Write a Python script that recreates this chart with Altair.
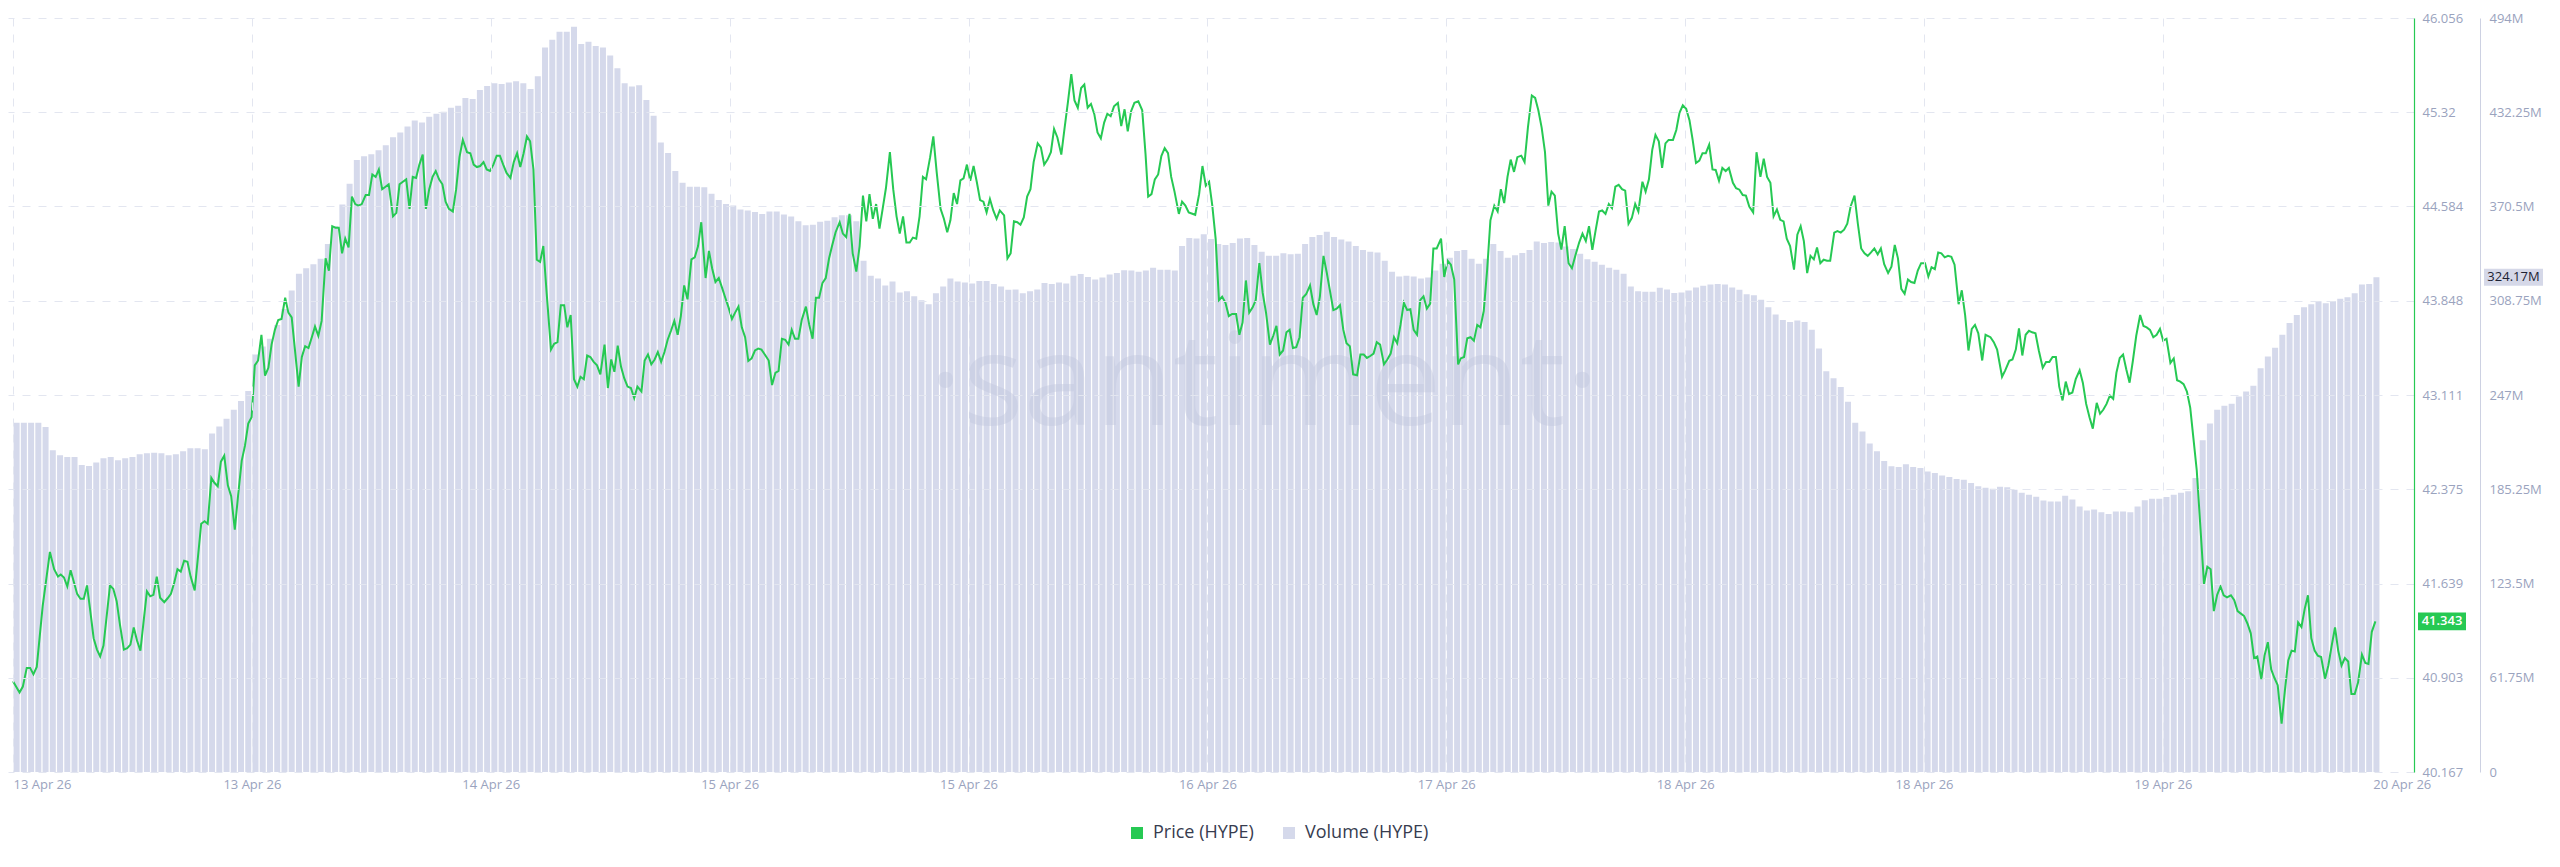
import altair as alt
import pandas as pd

# ---------------- data ----------------
TICK_HOURS = [0, 16.5, 33, 49.5, 66, 82.5, 99, 115.5, 132, 148.5, 165]
TICK_LABELS = ["13 Apr 26", "13 Apr 26", "14 Apr 26", "15 Apr 26", "15 Apr 26",
               "16 Apr 26", "17 Apr 26", "18 Apr 26", "18 Apr 26", "19 Apr 26", "20 Apr 26"]

PRICE_TICKS = [40.167, 40.903, 41.639, 42.375, 43.111, 43.848, 44.584, 45.32, 46.056]
VOLUME_TICKS = [0, 61.75, 123.5, 185.25, 247, 308.75, 370.5, 432.25, 494]

SERIES = ["Price (HYPE)", "Volume (HYPE)"]
COLORS = ["#26c953", "#d5d9eb"]

BAR_STEP_HOURS = 0.5
VOLUME_M = [
    228.9, 228.9, 228.9, 228.9, 226.0, 210.8, 207.6, 206.3, 206.3, 201.1,
    200.5, 202.7, 205.6, 206.3, 204.3, 205.6, 206.3, 208.2, 208.9, 209.2,
    208.9, 207.6, 208.2, 210.1, 212.1, 212.1, 211.4, 221.8, 226.3, 231.5,
    237.3, 243.1, 249.6, 273.5, 278.7, 283.9, 292.9, 303.3, 315.5, 326.5,
    330.1, 332.7, 336.2, 345.9, 357.6, 371.8, 385.4, 400.9, 403.5, 404.8,
    407.4, 410.6, 415.8, 419.0, 422.9, 426.8, 425.5, 429.3, 431.3, 432.6,
    435.2, 436.5, 441.6, 441.0, 446.8, 449.4, 451.3, 450.7, 451.7, 452.6,
    451.3, 447.5, 455.9, 474.6, 479.8, 485.0, 485.0, 488.2, 476.9, 478.5,
    475.6, 474.6, 469.4, 461.0, 451.3, 449.1, 450.0, 440.3, 430.0, 412.5,
    405.6, 393.8, 386.0, 383.4, 383.4, 383.1, 378.9, 374.7, 372.1, 371.1,
    368.6, 367.9, 366.9, 365.6, 367.3, 367.3, 365.3, 364.0, 360.8, 358.2,
    358.5, 360.5, 361.1, 363.4, 364.7, 364.7, 360.8, 334.9, 325.2, 323.3,
    318.8, 321.4, 314.2, 314.9, 311.7, 309.1, 306.5, 313.6, 318.1, 323.3,
    321.4, 320.7, 320.1, 321.7, 321.7, 319.7, 318.1, 315.9, 316.2, 313.6,
    314.9, 316.2, 320.4, 319.7, 320.7, 320.1, 325.2, 326.2, 324.3, 322.7,
    324.0, 325.9, 326.9, 328.8, 328.5, 327.8, 328.5, 330.4, 329.1, 329.1,
    328.5, 344.6, 349.8, 349.5, 352.4, 349.2, 345.9, 345.3, 346.6, 349.5,
    349.8, 345.3, 340.8, 338.2, 338.2, 339.8, 339.2, 339.5, 345.9, 350.5,
    351.8, 354.0, 350.5, 348.8, 347.5, 344.6, 342.0, 340.8, 340.4, 334.9,
    327.8, 324.6, 325.2, 324.6, 323.3, 324.0, 328.5, 333.0, 336.9, 341.4,
    342.0, 336.2, 333.0, 336.2, 345.9, 341.4, 336.9, 338.5, 340.1, 342.0,
    347.5, 346.6, 347.2, 346.9, 344.3, 342.7, 339.5, 335.9, 334.3, 332.4,
    330.4, 329.1, 326.5, 318.1, 314.9, 314.6, 314.6, 317.2, 316.2, 313.9,
    314.2, 315.5, 317.5, 318.5, 319.4, 319.7, 319.4, 317.5, 315.9, 313.0,
    312.3, 309.4, 304.5, 299.7, 296.1, 294.8, 295.8, 294.8, 289.7, 277.4,
    262.5, 258.0, 252.2, 242.5, 228.9, 223.1, 215.3, 210.1, 203.7, 200.4,
    199.8, 201.7, 199.8, 199.1, 196.9, 195.9, 194.3, 193.3, 192.0, 191.4,
    189.4, 187.2, 186.2, 185.6, 186.9, 186.5, 184.9, 183.0, 181.7, 180.4,
    177.8, 177.2, 177.2, 181.0, 178.5, 173.9, 171.4, 172.0, 170.1, 169.1,
    170.7, 170.7, 170.1, 173.9, 178.1, 179.1, 179.1, 180.1, 181.7, 183.0,
    184.0, 192.7, 217.3, 228.3, 237.3, 239.9, 241.2, 246.0, 249.3, 253.1,
    264.5, 272.2, 278.0, 286.4, 294.2, 299.4, 304.5, 306.5, 308.4, 307.1,
    308.4, 310.0, 311.0, 313.6, 319.4, 319.7, 324.17,
]

PRICE_HOURS = [
    0.00, 0.45, 0.68, 0.95, 1.18, 1.41, 1.64, 2.05, 2.55, 2.84, 3.11, 3.30, 3.52, 3.75, 3.98,
    4.43, 4.66, 4.89, 5.11, 5.34, 5.57, 5.80, 6.02, 6.25, 6.70, 6.93, 7.16, 7.39, 7.66, 7.89,
    8.11, 8.34, 8.57, 8.80, 9.25, 9.48, 9.70, 9.93, 10.16, 10.45, 10.68, 10.91, 11.14, 11.36,
    11.59, 11.82, 12.05, 12.27, 12.55, 13.00, 13.23, 13.45, 13.70, 13.91, 14.14, 14.36, 14.59,
    14.84, 15.07, 15.32, 15.55, 15.80, 16.02, 16.25, 16.48, 16.70, 16.93, 17.16, 17.41, 17.64,
    17.86, 18.09, 18.32, 18.55, 18.80, 19.02, 19.25, 19.73, 19.95, 20.18, 20.41, 20.64, 20.86,
    21.09, 21.32, 21.59, 21.82, 22.05, 22.27, 22.50, 22.73, 22.95, 23.18, 23.41, 23.64, 23.86,
    24.09, 24.36, 24.59, 24.82, 25.05, 25.27, 25.50, 25.73, 25.95, 26.25, 26.48, 26.70, 26.93,
    27.16,
    27.39, 27.61, 27.84, 28.07, 28.30, 28.52, 28.75, 28.98, 29.20, 29.43, 29.66, 29.88, 30.11,
    30.38, 30.61, 30.84, 31.07, 31.36, 31.59, 31.82, 32.04, 32.27, 32.50, 32.72, 32.95, 33.18,
    33.41, 33.63, 33.86, 34.09, 34.36, 34.59, 34.82, 35.04, 35.27, 35.50, 35.72, 35.95, 36.18,
    36.41, 36.63, 36.86, 37.16, 37.38, 37.61, 37.84, 38.07, 38.29, 38.52, 38.75, 38.98, 39.20,
    39.43, 39.66, 39.88, 40.11, 40.34, 40.57, 40.86, 41.09, 41.32, 41.54, 41.77, 42.00, 42.22,
    42.45, 42.68, 42.91, 43.13, 43.41, 43.63, 43.86, 44.09, 44.32, 44.54, 44.77, 45.00, 45.22,
    45.45, 45.68, 45.91, 46.13, 46.36, 46.59, 46.86, 47.09, 47.32, 47.54, 47.84, 48.07, 48.29,
    48.52, 48.75, 48.98, 49.20, 49.43, 49.66, 49.88, 50.11, 50.34, 50.57, 50.79, 51.02, 51.25,
    51.48, 51.70, 51.93, 52.20, 52.43, 52.66, 52.88, 53.11, 53.34, 53.57, 53.79, 54.02, 54.25,
    54.48,
    54.77, 55.00, 55.23, 55.46, 55.68, 55.91, 56.14, 56.37, 56.59, 56.82, 57.10, 57.32, 57.55,
    57.78, 58.00, 58.25, 58.48, 58.71, 58.94, 59.16, 59.39, 59.62, 59.85, 60.07, 60.30, 60.57,
    60.80, 61.03, 61.25, 61.48, 61.71, 61.94, 62.16, 62.39, 62.62, 62.85, 63.07, 63.35, 63.57,
    63.80, 64.07, 64.30, 64.53, 64.75, 64.98, 65.21, 65.44, 65.66, 65.89, 66.12, 66.35, 66.57,
    66.80, 67.03, 67.25, 67.48, 67.71, 67.94, 68.16, 68.46, 68.69, 68.91, 69.14, 69.37, 69.59,
    69.82, 70.05, 70.28, 70.50, 70.78, 71.00, 71.23, 71.46, 71.69, 71.91, 72.14, 72.41, 72.64,
    72.87, 73.10, 73.32, 73.55, 73.78, 74.00, 74.23, 74.46, 74.69, 74.91, 75.14, 75.37, 75.59,
    75.82, 76.05, 76.32, 76.55, 76.78, 77.00, 77.23, 77.46, 77.73, 78.00, 78.23, 78.41, 78.64,
    78.87, 79.10, 79.32, 79.55, 79.78, 80.00, 80.23, 80.53, 80.75, 80.98, 81.21, 81.66,
    81.93, 82.16, 82.39, 82.62, 82.84, 83.07, 83.30, 83.52, 83.75, 83.98, 84.21, 84.48, 84.71,
    84.93, 85.16, 85.39, 85.62, 85.84, 86.09, 86.32, 86.55, 86.82, 87.05, 87.27, 87.50, 87.73,
    87.96, 88.18, 88.41, 88.64, 88.87, 89.09, 89.32, 89.59, 89.82, 90.05, 90.27, 90.52, 90.75,
    90.98, 91.20, 91.43, 91.66, 91.89, 92.11, 92.34, 92.57, 92.84, 93.07, 93.30, 93.52, 93.75,
    93.98, 94.20, 94.43, 94.70, 94.93, 95.16, 95.39, 95.61, 95.84, 96.07, 96.30, 96.52, 96.75,
    96.98, 97.20, 97.43, 97.66, 97.89, 98.11, 98.34, 98.64, 98.86, 99.09, 99.32, 99.55, 99.82,
    100.00, 100.23, 100.45, 100.68, 100.91, 101.14, 101.36, 101.59, 101.82, 102.05, 102.32,
    102.55, 102.77, 103.00, 103.23, 103.45, 103.68, 103.91, 104.18, 104.41, 104.64, 104.91,
    105.14, 105.36, 105.59, 105.82, 106.05, 106.27, 106.50, 106.73, 106.95, 107.18, 107.45,
    107.68, 107.91, 108.18, 108.41, 108.64, 108.86,
    109.09, 109.32, 109.55, 109.77, 110.00, 110.23, 110.45, 110.68, 110.91, 111.14, 111.36,
    111.59, 111.82, 112.05, 112.27, 112.55, 112.77, 113.00, 113.23, 113.45, 113.68, 113.91,
    114.14, 114.36, 114.66, 114.89, 115.11, 115.34, 115.57, 115.80, 116.02, 116.25, 116.48,
    116.70, 116.93, 117.16, 117.39, 117.61, 117.84, 118.07, 118.30, 118.52, 118.80, 119.02,
    119.25, 119.48, 119.70, 119.93, 120.20, 120.43, 120.70, 120.93, 121.16, 121.39, 121.61,
    121.84, 122.07, 122.30, 122.52, 122.75, 123.02, 123.25, 123.48, 123.70, 123.93, 124.16,
    124.39, 124.61, 124.84, 125.07, 125.30, 125.52, 125.80, 126.02, 126.25, 126.48, 126.70,
    126.93, 127.20, 127.43, 127.66, 127.89, 128.11, 128.34, 128.57, 128.80, 129.02, 129.25,
    129.52, 129.75, 129.98, 130.20, 130.43, 130.66, 130.89, 131.11, 131.34, 131.57, 131.80,
    132.07, 132.30, 132.52, 132.75, 132.98, 133.20, 133.43, 133.66, 133.89, 134.11, 134.39,
    134.61, 134.84, 135.07, 135.30, 135.52, 135.75, 136.02, 136.25,
    136.59, 136.82, 137.05, 137.39, 137.61, 137.89, 138.11, 138.34, 138.56, 138.79, 139.02,
    139.25, 139.47, 139.70, 139.93, 140.20, 140.43, 140.66, 140.88, 141.11, 141.34, 141.57,
    141.79, 142.02, 142.25, 142.48, 142.75, 142.97, 143.20, 143.43, 143.66, 143.93, 144.16,
    144.38, 144.61, 144.84, 145.07, 145.29, 145.52, 145.75, 145.97, 146.20, 146.43, 146.66,
    146.93, 147.16, 147.38, 147.61, 147.84, 148.07, 148.30, 148.52, 148.75, 149.02, 149.25,
    149.48, 149.70, 149.93, 150.16, 150.39, 150.61, 150.84, 151.07, 151.34, 151.57, 151.80,
    152.02, 152.25, 152.48, 152.70, 152.93, 153.20, 153.43, 153.66, 153.89, 154.11, 154.34,
    154.57, 154.80, 155.02, 155.30, 155.52, 155.75, 155.98, 156.20, 156.43, 156.70, 156.93,
    157.16, 157.39, 157.61, 157.84, 158.07, 158.30, 158.52, 158.75, 158.98, 159.20, 159.43,
    159.70, 159.93, 160.16, 160.39, 160.61, 160.84, 161.07, 161.30, 161.52, 161.75, 161.98,
    162.25, 162.48, 162.70, 162.93, 163.18,
]

PRICE_USD = [
    40.876, 40.788, 40.834, 40.980, 40.980, 40.930, 40.988, 41.462, 41.886, 41.751, 41.693, 41.709, 41.686, 41.616, 41.743,
    41.558, 41.520, 41.520, 41.624, 41.424, 41.212, 41.123, 41.069, 41.154, 41.624, 41.597, 41.501, 41.316, 41.123, 41.135,
    41.162, 41.296, 41.192, 41.115, 41.578, 41.539, 41.551, 41.693, 41.528, 41.493, 41.524, 41.558, 41.647, 41.751,
    41.732, 41.817, 41.809, 41.693, 41.585, 42.106, 42.125, 42.106, 42.464, 42.426, 42.399, 42.591, 42.637,
    42.406, 42.321, 42.059, 42.329, 42.599, 42.714, 42.888, 42.938, 43.343, 43.381, 43.582, 43.262, 43.324,
    43.505, 43.620, 43.697, 43.705, 43.871, 43.755, 43.717, 43.177, 43.408, 43.493, 43.478, 43.563, 43.647,
    43.574, 43.690, 44.179, 44.083, 44.430, 44.418, 44.418, 44.218, 44.333, 44.264, 44.661, 44.603, 44.591,
    44.603, 44.673, 44.673, 44.834, 44.815, 44.873, 44.719, 44.738, 44.757, 44.507, 44.534, 44.757, 44.777,
    44.796,
    44.565, 44.815, 44.807, 44.911, 44.989, 44.565, 44.719, 44.815, 44.861, 44.796, 44.757, 44.622, 44.565,
    44.545, 44.719, 44.969, 45.104, 45.008, 45.000, 44.911, 44.892, 44.900, 44.931, 44.873, 44.861, 44.911,
    44.981, 44.981, 44.911, 44.846, 44.807, 44.931, 45.000, 44.892, 45.000, 45.131, 45.093, 44.873, 44.168,
    44.152, 44.275, 43.909, 43.466, 43.512, 43.524, 43.813, 43.813, 43.640, 43.736, 43.235, 43.177, 43.254,
    43.235, 43.420, 43.408, 43.370, 43.343, 43.273, 43.505, 43.166, 43.389, 43.293, 43.497, 43.331, 43.243,
    43.177, 43.166, 43.088, 43.177, 43.139, 43.381, 43.428, 43.351, 43.389, 43.447, 43.370, 43.447, 43.543,
    43.613, 43.690, 43.582, 43.728, 43.967, 43.859, 44.171, 44.187, 44.275, 44.461, 44.025, 44.237, 44.102,
    43.994, 44.025, 43.948, 43.871, 43.794, 43.705, 43.755, 43.802, 43.640, 43.563, 43.378, 43.397, 43.459,
    43.474, 43.466, 43.428, 43.381, 43.189, 43.285, 43.300, 43.551, 43.543, 43.505, 43.620, 43.551, 43.551,
    43.697,
    43.802, 43.659, 43.551, 43.871, 43.871, 43.986, 44.025, 44.179, 44.283, 44.383, 44.461, 44.372, 44.345,
    44.526, 44.218, 44.075, 44.275, 44.669, 44.468, 44.680, 44.488, 44.603, 44.411, 44.565, 44.730, 45.008,
    44.719, 44.507, 44.372, 44.507, 44.302, 44.302, 44.341, 44.333, 44.507, 44.815, 44.796, 44.969, 45.131,
    44.854, 44.565, 44.488, 44.383, 44.476, 44.688, 44.603, 44.788, 44.804, 44.911, 44.784, 44.900, 44.777,
    44.634, 44.622, 44.538, 44.642, 44.553, 44.488, 44.553, 44.515, 44.179, 44.218, 44.468, 44.461, 44.441,
    44.499, 44.661, 44.719, 44.931, 45.077, 45.046, 44.911, 44.950, 45.008, 45.189, 45.123, 44.989, 45.200,
    45.401, 45.617, 45.412, 45.355, 45.509, 45.536, 45.355, 45.385, 45.305, 45.162, 45.116, 45.239, 45.308,
    45.289, 45.366, 45.393, 45.212, 45.343, 45.170, 45.328, 45.393, 45.405, 45.335, 44.989, 44.661, 44.680,
    44.796, 44.834, 44.977, 45.039, 45.000, 44.815, 44.700, 44.526, 44.622, 44.591, 44.538, 44.519,
    44.680, 44.900, 44.746, 44.777, 44.591, 44.333, 43.852, 43.879, 43.832, 43.728, 43.744, 43.744, 43.582,
    43.678, 44.006, 43.755, 43.794, 43.852, 44.141, 43.909, 43.755, 43.505, 43.574, 43.651, 43.428, 43.459,
    43.601, 43.620, 43.478, 43.485, 43.563, 43.871, 43.898, 43.967, 43.821, 43.736, 43.879, 44.198, 44.064,
    43.917, 43.775, 43.786, 43.813, 43.620, 43.516, 43.493, 43.273, 43.266, 43.428, 43.428, 43.401, 43.416,
    43.435, 43.524, 43.505, 43.351, 43.389, 43.435, 43.563, 43.516, 43.659, 43.832, 43.775, 43.782, 43.620,
    43.582, 43.852, 43.882, 43.786, 43.825, 44.256, 44.256, 44.333, 44.033, 44.160, 44.129, 44.014, 43.351,
    43.397, 43.408, 43.555, 43.563, 43.536, 43.659, 43.640, 43.767, 44.083, 44.476, 44.591,
    44.545, 44.719, 44.611, 44.815, 44.950, 44.854, 44.969, 44.981, 44.931, 45.200, 45.451,
    45.432, 45.335, 45.200, 45.008, 44.591, 44.700, 44.669, 44.372, 44.248, 44.430, 44.141,
    44.102, 44.198, 44.302, 44.372, 44.314, 44.430,
    44.245, 44.399, 44.545, 44.553, 44.526, 44.603, 44.572, 44.738, 44.753, 44.719, 44.707,
    44.449, 44.495, 44.603, 44.545, 44.777, 44.700, 44.796, 45.027, 45.143, 45.093, 44.885,
    45.077, 45.104, 45.104, 45.181, 45.316, 45.374, 45.347, 45.258, 45.104, 44.923, 44.942,
    45.000, 45.000, 45.066, 44.873, 44.869, 44.784, 44.885, 44.861, 44.885, 44.769, 44.726,
    44.715, 44.673, 44.669, 44.584, 44.538, 45.008, 44.815, 44.958, 44.815, 44.769, 44.507,
    44.561, 44.480, 44.468, 44.333, 44.275, 44.091, 44.364, 44.430, 44.314, 44.064, 44.198,
    44.171, 44.264, 44.141, 44.168, 44.160, 44.160, 44.380, 44.391, 44.380, 44.403, 44.449,
    44.584, 44.669, 44.449, 44.256, 44.218, 44.198, 44.225, 44.256, 44.210, 44.256, 44.133,
    44.064, 44.114, 44.283, 44.179, 43.940, 43.902, 44.014, 43.994, 43.986, 44.083, 44.141,
    44.141, 44.037, 44.110, 44.094, 44.225, 44.218, 44.187, 44.198, 44.191, 44.129, 43.821,
    43.929, 43.736, 43.459, 43.628, 43.659, 43.593, 43.381, 43.582,
    43.563, 43.524, 43.466, 43.254, 43.304, 43.378, 43.389, 43.466, 43.632, 43.420, 43.582,
    43.613, 43.601, 43.593, 43.459, 43.324, 43.370, 43.370, 43.408, 43.408, 43.177, 43.069,
    43.216, 43.119, 43.131, 43.235, 43.304, 43.208, 43.042, 42.938, 42.849, 43.050, 42.965,
    42.996, 43.042, 43.108, 43.081, 43.285, 43.401, 43.428, 43.312, 43.208, 43.381, 43.574,
    43.736, 43.651, 43.640, 43.620, 43.563, 43.582, 43.628, 43.536, 43.551, 43.362, 43.397,
    43.227, 43.216, 43.196, 43.139, 43.011, 42.772, 42.522, 42.117, 41.635, 41.770, 41.751,
    41.424, 41.551, 41.616, 41.547, 41.531, 41.547, 41.508, 41.424, 41.404, 41.385, 41.327,
    41.250, 41.057, 41.069, 40.892, 41.076, 41.181, 40.969, 40.903, 40.845, 40.545, 40.807,
    41.038, 41.115, 41.108, 41.335, 41.300, 41.443, 41.547, 41.212, 41.115, 41.076, 41.065,
    40.896, 40.999, 41.154, 41.296, 41.115, 40.999, 41.057, 41.030, 40.776, 40.776, 40.865,
    41.084, 41.019, 41.011, 41.262, 41.343,
]

# ---------------- layout / style ----------------
W, H = 2406, 754
FONT = "Open Sans"
AXIS_LABEL = "#9aa3be"
GRID = "#e3e6f0"
GREEN = COLORS[0]

vol_df = pd.DataFrame({
    "t": [i * BAR_STEP_HOURS + BAR_STEP_HOURS / 2 for i in range(len(VOLUME_M))],
    "volume": VOLUME_M,
    "series": SERIES[1],
})
price_df = pd.DataFrame({"t": PRICE_HOURS, "price": PRICE_USD})
price_last = pd.DataFrame({"price": [PRICE_USD[-1]], "label": [f"{PRICE_USD[-1]:.3f}"]})
vol_last = pd.DataFrame({"volume": [VOLUME_M[-1]], "label": [f"{VOLUME_M[-1]:.2f}M"]})

labels_js = "[" + ",".join(f"'{s}'" for s in TICK_LABELS) + "]"

x_enc = alt.X(
    "t:Q",
    scale=alt.Scale(domain=[0, 165.5], nice=False, zero=False),
    axis=alt.Axis(
        values=TICK_HOURS, labelExpr=f"{labels_js}[round(datum.value / 16.5)]",
        title=None, grid=True, gridDash=[8, 8], gridColor=GRID,
        gridOpacity={"condition": {"test": "datum.value > 160", "value": 0}, "value": 1},
        domain=False, ticks=False, labelFont=FONT, labelFontSize=13,
        labelColor=AXIS_LABEL, labelPadding=6, labelFlush=False,
        labelAlign={"condition": {"test": "datum.value < 1", "value": "left"}, "value": "center"},
        zindex=1,
    ),
)

price_scale = alt.Scale(domain=[PRICE_TICKS[0], PRICE_TICKS[-1]], nice=False, zero=False)
vol_scale = alt.Scale(domain=[VOLUME_TICKS[0], VOLUME_TICKS[-1]], nice=False, zero=True)

bars = alt.Chart(vol_df).mark_bar(orient="vertical", width=6.0).encode(
    x=x_enc,
    y=alt.Y("volume:Q", scale=vol_scale, axis=alt.Axis(
        orient="right", offset=66, values=VOLUME_TICKS, format=".2~f",
        labelExpr="datum.value == 0 ? '0' : datum.label + 'M'",
        title=None, grid=False, ticks=False, domainColor="#cdd1e2",
        labelFont=FONT, labelFontSize=13, labelColor=AXIS_LABEL, labelPadding=9,
    )),
    color=alt.Color("series:N", scale=alt.Scale(domain=SERIES, range=COLORS),
                    legend=alt.Legend(
                        title=None, orient="none", legendX=1120, legendY=806,
                        direction="horizontal", symbolType="square", symbolSize=144,
                        symbolStrokeWidth=0, labelFont=FONT, labelFontSize=18,
                        labelColor="#373c4f", columnPadding=26, labelOffset=7, padding=0,
                    )),
)

watermark = alt.Chart(pd.DataFrame({"w": ["·santiment·"]})).mark_text(
    font=FONT, fontSize=128, color="#c3c8de", opacity=0.45, align="center", baseline="alphabetic"
).encode(x=alt.value(1256), y=alt.value(407), text="w:N")

line = alt.Chart(price_df).mark_line(color=GREEN, strokeWidth=2).encode(
    x=x_enc,
    y=alt.Y("price:Q", scale=price_scale, axis=alt.Axis(
        orient="right", values=PRICE_TICKS, format=".3~f", title=None,
        grid=True, gridDash=[8, 8], gridColor=GRID, ticks=False,
        domainColor=GREEN, domainWidth=1.2,
        labelFont=FONT, labelFontSize=13, labelColor=AXIS_LABEL, labelPadding=8, zindex=1,
    )),
)

badge_v = alt.Chart(vol_last).mark_point(
    shape="M-1,-0.288H1V0.288H-1Z", size=3481, filled=True, opacity=1, color="#d5d8e8", strokeWidth=0
).encode(x=alt.value(W + 99.5), y=alt.Y("volume:Q", scale=vol_scale, axis=None))
text_v = alt.Chart(vol_last).mark_text(font=FONT, fontSize=13, color="#1d2233").encode(
    x=alt.value(W + 99.5), y=alt.Y("volume:Q", scale=vol_scale, axis=None), text="label:N")

badge_p = alt.Chart(price_last).mark_point(
    shape="M-1,-0.367H1V0.367H-1Z", size=2304, filled=True, opacity=1, color=GREEN, strokeWidth=0
).encode(x=alt.value(W + 28), y=alt.Y("price:Q", scale=price_scale, axis=None))
text_p = alt.Chart(price_last).mark_text(font=FONT, fontSize=13, fontWeight=600, color="white").encode(
    x=alt.value(W + 28), y=alt.Y("price:Q", scale=price_scale, axis=None), text="label:N")

chart = alt.layer(bars, watermark, line, badge_v, text_v, badge_p, text_p).resolve_scale(
    y="independent"
).properties(
    width=W, height=H, padding={"left": 0, "top": 4, "right": 4, "bottom": 4}, background="white"
).configure_view(stroke=None)

chart.save("out.html", embed_options={"renderer": "svg", "actions": False})
